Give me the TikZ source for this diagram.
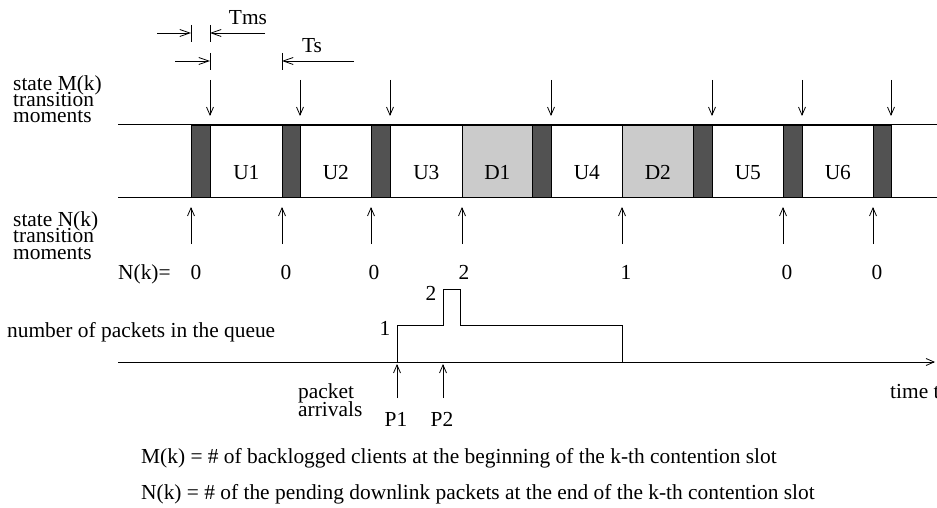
\documentclass[tikz,border=0pt]{standalone}
\usepackage{fontspec}
\setmainfont{Liberation Serif}
\usetikzlibrary{arrows.meta}
\definecolor{darkslot}{HTML}{525252}
\definecolor{lightslot}{HTML}{CBCBCB}
\begin{document}
\begin{tikzpicture}[x=1pt,y=-1pt,
  txt/.style={font=\fontsize{21.4}{16}\selectfont, inner sep=0pt},
  btxt/.style={txt, anchor=base},
  bwtxt/.style={txt, anchor=base west},
  arr/.style={line width=0.8pt, -{Straight Barb[length=8pt,width=7pt,line width=0.8pt]}},
  dimarr/.style={line width=0.8pt, -{Straight Barb[length=10pt,width=7pt,line width=0.8pt]}},
  tickline/.style={line width=0.9pt},
  slot/.style={draw=black, line width=0.7pt, minimum height=72pt, inner sep=0pt, anchor=north west},
  dslot/.style={slot, fill=darkslot},
  lslot/.style={slot, fill=lightslot},
  wslot/.style={slot, fill=white},
  bandline/.style={line width=1pt}
]
\useasboundingbox (0,0) rectangle (937,508);

% ---- band ----
\coordinate (bandTL) at (118,125);
\coordinate (bandTR) at (937,125);
\coordinate (bandBL) at (118,197);
\coordinate (bandBR) at (937,197);
\draw[bandline] (bandTL) -- (bandTR);
\draw[bandline] (bandBL) -- (bandBR);

% white / light slots
\node[wslot, minimum width=72pt] (u1) at (210,125) {};
\node[wslot, minimum width=71pt] (u2) at (300,125) {};
\node[wslot, minimum width=72pt] (u3) at (390,125) {};
\node[lslot, minimum width=70pt] (d1) at (462,125) {};
\node[wslot, minimum width=71pt] (u4) at (551,125) {};
\node[lslot, minimum width=71pt] (d2) at (622,125) {};
\node[wslot, minimum width=71pt] (u5) at (712,125) {};
\node[wslot, minimum width=71pt] (u6) at (802,125) {};
% dark contention slots
\node[dslot, minimum width=19pt] (c1) at (191,125) {};
\node[dslot, minimum width=18pt] (c2) at (282,125) {};
\node[dslot, minimum width=19pt] (c3) at (371,125) {};
\node[dslot, minimum width=19pt] (c4) at (532,125) {};
\node[dslot, minimum width=19pt] (c5) at (693,125) {};
\node[dslot, minimum width=19pt] (c6) at (783,125) {};
\node[dslot, minimum width=18pt] (c7) at (873,125) {};
% slot labels
\foreach \n/\t in {u1/U1,u2/U2,u3/U3,d1/D1,u4/U4,d2/D2,u5/U5,u6/U6} {
  \node[btxt] (l\n) at ([yshift=-18pt]\n.center) {\t};
}

% ---- M(k) transition arrows ----
\foreach \x [count=\i] in {210,300,390,551,712,802,891} {
  \coordinate (mt\i) at (\x,80);
  \coordinate (mb\i) at (\x,116);
  \draw[arr] (mt\i) -- (mb\i);
}
% ---- N(k) transition arrows ----
\foreach \x [count=\i] in {191,282,371,462,622,783,873} {
  \coordinate (nb\i) at (\x,244);
  \coordinate (nt\i) at (\x,207);
  \draw[arr] (nb\i) -- (nt\i);
}

% ---- left labels ----
\node[bwtxt] (ml1) at (13,91)  {state M(k)};
\node[bwtxt] (ml2) at (13,107) {transition};
\node[bwtxt] (ml3) at (13,123) {moments};
\node[bwtxt] (nl1) at (13,226) {state N(k)};
\node[bwtxt] (nl2) at (13,242) {transition};
\node[bwtxt] (nl3) at (13,259) {moments};

% ---- N(k) values ----
\node[bwtxt] (nkeq) at (118,279) {N(k)=};
\foreach \x/\v [count=\i] in {196/0,286/0,374/0,464/2,626/1,787/0,877/0} {
  \node[btxt] (nv\i) at (\x,279) {\v};
}

% ---- timing dimensions ----
\coordinate (t1a) at (191,25);  \coordinate (t1b) at (191,42);
\coordinate (t2a) at (210,25);  \coordinate (t2b) at (210,42);
\draw[tickline] (t1a) -- (t1b);
\draw[tickline] (t2a) -- (t2b);
\coordinate (tmsL) at (157,33); \coordinate (tmsLe) at (191,33);
\coordinate (tmsR) at (265,33); \coordinate (tmsRe) at (210,33);
\draw[dimarr] (tmsL) -- (tmsLe);
\draw[dimarr] (tmsR) -- (tmsRe);
\node[btxt] (tms) at (248,25) {Tms};

\coordinate (t3a) at (210,53);  \coordinate (t3b) at (210,70);
\coordinate (t4a) at (282,53);  \coordinate (t4b) at (282,70);
\draw[tickline] (t3a) -- (t3b);
\draw[tickline] (t4a) -- (t4b);
\coordinate (tsL) at (175,61); \coordinate (tsLe) at (210,61);
\coordinate (tsR) at (354,61); \coordinate (tsRe) at (282,61);
\draw[dimarr] (tsL) -- (tsLe);
\draw[dimarr] (tsR) -- (tsRe);
\node[btxt] (ts) at (312,53) {Ts};

% ---- queue ----
\node[bwtxt] (qlab) at (7,337) {number of packets in the queue};
\coordinate (ax0) at (118,362);
\coordinate (ax1) at (935,362);
\draw[arr] (ax0) -- (ax1);
\coordinate (q0) at (397,362);
\coordinate (q1) at (397,325);
\coordinate (q2) at (443,325);
\coordinate (q3) at (443,289);
\coordinate (q4) at (460,289);
\coordinate (q5) at (460,325);
\coordinate (q6) at (622,325);
\coordinate (q7) at (622,362);
\draw[line width=0.8pt] (q0) -- (q1) -- (q2) -- (q3) -- (q4) -- (q5) -- (q6) -- (q7);
\node[btxt] (one) at (385,335) {1};
\node[btxt] (two) at (431,300) {2};

% ---- packet arrivals ----
\coordinate (p1b) at (397,398); \coordinate (p1t) at (397,364);
\coordinate (p2b) at (443,398); \coordinate (p2t) at (443,364);
\draw[arr] (p1b) -- (p1t);
\draw[arr] (p2b) -- (p2t);
\node[bwtxt] (pk1) at (298,398) {packet};
\node[bwtxt] (pk2) at (298,416) {arrivals};
\node[btxt] (P1) at (396,426) {P1};
\node[btxt] (P2) at (442,426) {P2};
\node[bwtxt] (time) at (890,398) {time t};

% ---- caption ----
\node[bwtxt] (capM) at (141,463) {M(k) = \# of backlogged clients at the beginning of the k-th contention slot};
\node[bwtxt] (capN) at (141,499) {N(k) = \# of the pending downlink packets at the end of the k-th contention slot};
\end{tikzpicture}
\end{document}
